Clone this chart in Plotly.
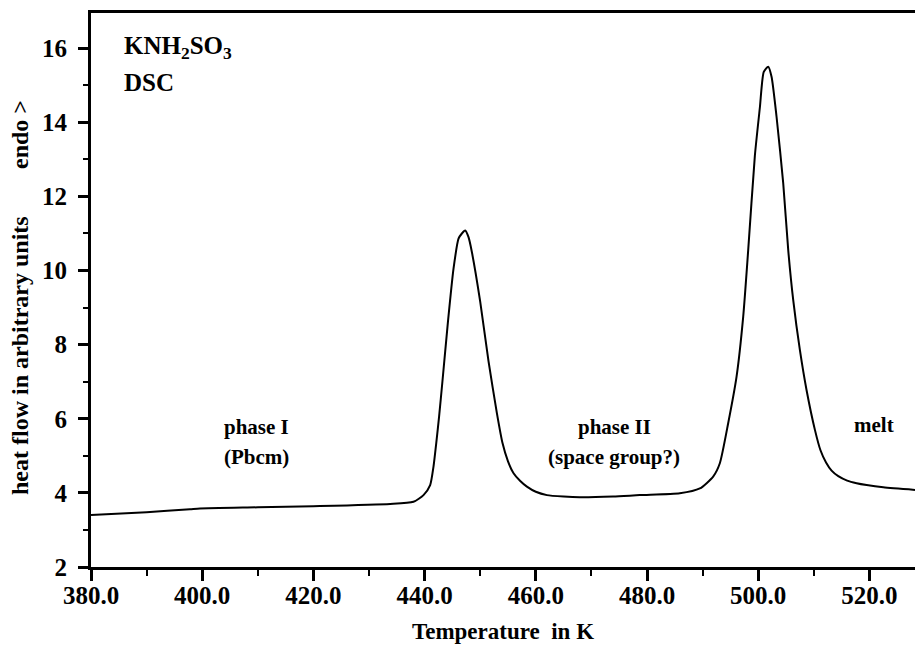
import plotly.graph_objects as go

# DSC trace of KNH2SO3
temperature_K = [380.0, 390.0, 397.8, 399.6, 410.0, 420.0, 433.8, 438.0, 439.8, 441.0, 441.6, 442.1, 442.6,
                 443.2, 444.2, 445.2, 446.1, 446.7, 447.3, 447.9, 448.5, 450.0, 451.5, 453.0, 454.0,
                 455.0, 456.0, 457.2, 458.4, 460.0, 462.0, 465.0, 467.9, 473.9, 478.7, 485.9, 489.5,
                 491.9, 493.1, 494.6, 496.1, 497.3, 498.2, 499.4, 500.3, 501.0, 501.8, 502.4, 503.3,
                 504.5, 505.4, 506.3, 507.5, 508.7, 510.2, 511.2, 512.2, 513.2, 514.4, 516.0, 517.7,
                 519.5, 522.5, 528.2]
heat_flow = [3.40, 3.48, 3.56, 3.58, 3.61, 3.64, 3.70, 3.76, 3.94, 4.21, 4.71, 5.35, 6.05,
             7.00, 8.62, 10.05, 10.86, 11.0, 11.08, 10.9, 10.5, 9.16, 7.55, 6.15, 5.35,
             4.85, 4.53, 4.32, 4.17, 4.03, 3.94, 3.90, 3.88, 3.90, 3.94, 3.99, 4.12,
             4.44, 4.80, 5.88, 7.13, 8.75, 10.55, 13.1, 14.4, 15.36, 15.50, 15.23, 14.15,
             12.35, 10.55, 9.20, 7.85, 6.77, 5.70, 5.15, 4.82, 4.60, 4.45, 4.33, 4.26,
             4.21, 4.15, 4.08]

x_ticks = [380, 400, 420, 440, 460, 480, 500, 520]
y_ticks = [2, 4, 6, 8, 10, 12, 14, 16]

labels_text = ["phase I", "(Pbcm)", "phase II", "(space group?)", "melt"]
labels_x = [409.7, 409.7, 474.1, 474.1, 520.8]
labels_y = [5.78, 4.97, 5.78, 4.97, 5.83]

SERIF = "Liberation Serif"

fig = go.Figure()
fig.add_trace(go.Scatter(x=temperature_K, y=heat_flow, mode="lines",
                         line=dict(color="black", width=2, shape="spline", smoothing=0.6),
                         showlegend=False, hoverinfo="skip"))

for t, xx, yy in zip(labels_text, labels_x, labels_y):
    fig.add_annotation(x=xx, y=yy, text="<b>" + t + "</b>", showarrow=False, xanchor="center", yanchor="middle",
                       font=dict(family=SERIF, size=21, color="black"))

fig.add_annotation(x=385.6, y=16.03, text="<b>KNH<sub>2</sub>SO<sub>3</sub></b>", showarrow=False,
                   xanchor="left", yanchor="middle", font=dict(family=SERIF, size=25, color="black"))
fig.add_annotation(x=385.6, y=15.08, text="<b>DSC</b>", showarrow=False,
                   xanchor="left", yanchor="middle", font=dict(family=SERIF, size=25, color="black"))

# y-axis title split into two parts
fig.add_annotation(xref="paper", yref="paper", x=-0.0, xshift=-71, y=(567 - 356) / 554,
                   text="<b>heat flow in arbitrary units</b>", textangle=-90, showarrow=False,
                   xanchor="center", yanchor="middle", font=dict(family=SERIF, size=24, color="black"))
fig.add_annotation(xref="paper", yref="paper", x=-0.0, xshift=-71, y=(567 - 135) / 554,
                   text="<b>endo ></b>", textangle=-90, showarrow=False,
                   xanchor="center", yanchor="middle", font=dict(family=SERIF, size=24, color="black"))

fig.update_layout(
    width=915, height=647,
    margin=dict(l=91, r=0, t=13, b=80),
    paper_bgcolor="white", plot_bgcolor="white",
    font=dict(family=SERIF, color="black"),
    xaxis=dict(
        range=[380, 528.2], tickvals=x_ticks, tickformat=".1f",
        showgrid=False, zeroline=False,
        showline=True, linecolor="black", linewidth=3, mirror=True,
        ticks="outside", ticklen=11, tickwidth=2.5, tickcolor="black",
        minor=dict(dtick=10, tick0=380, ticks="outside", ticklen=6, tickwidth=2, tickcolor="black"),
        tickfont=dict(family=SERIF, size=25, color="black", weight="bold"),
        ticklabelstandoff=-7,
        title=dict(text="<b>Temperature  in K</b>", standoff=15,
                   font=dict(family=SERIF, size=23, color="black")),
    ),
    yaxis=dict(
        range=[2, 16.95], tickvals=y_ticks,
        showgrid=False, zeroline=False,
        showline=True, linecolor="black", linewidth=3, mirror=False,
        ticks="outside", ticklen=10, tickwidth=2.5, tickcolor="black",
        minor=dict(dtick=1, tick0=1, ticks="outside", ticklen=5, tickwidth=2, tickcolor="black"),
        tickfont=dict(family=SERIF, size=25, color="black", weight="bold"),
        ticklabelstandoff=6,
    ),
)

fig.write_html("out.html")
